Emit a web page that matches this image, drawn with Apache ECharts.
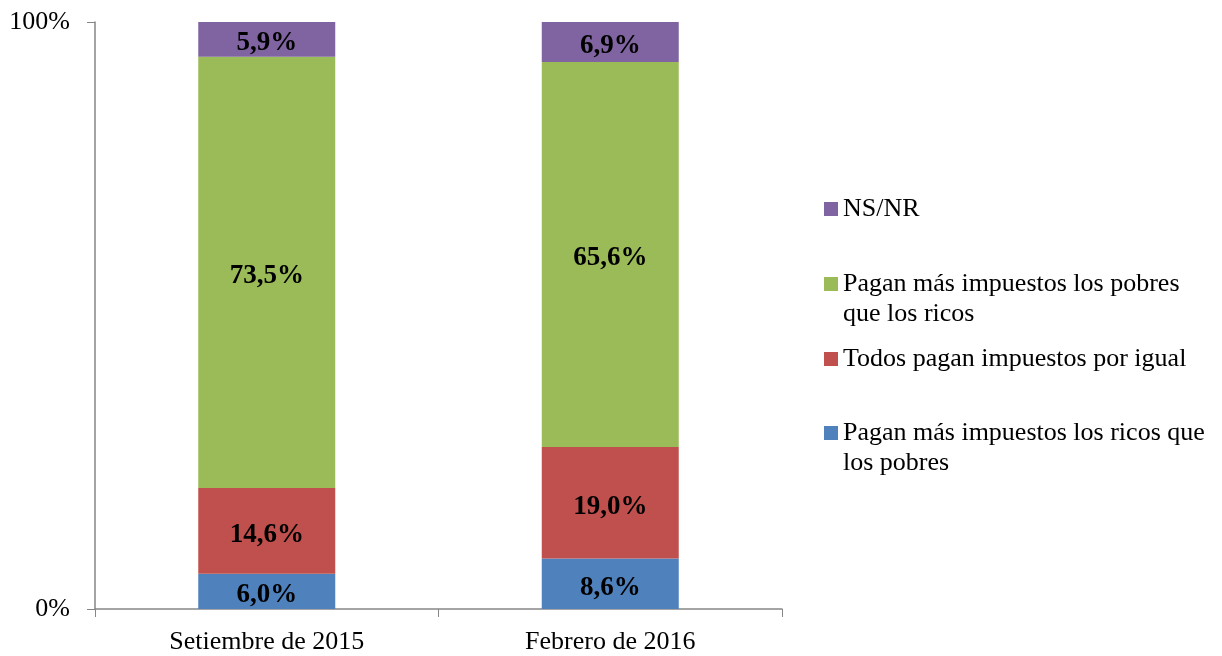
<!DOCTYPE html>
<html>
<head>
<meta charset="utf-8">
<title>ECharts</title>
<script src="https://cdn.jsdelivr.net/npm/echarts@6/dist/echarts.min.js"></script>
</head>
<body style="margin:0;">
	<div id="main" style="width: 1222px; height: 656px;"></div>
	<script type="text/javascript">
		// categorías y valores (%)
		var categories = ['Setiembre de 2015', 'Febrero de 2016'];
		var ricos = [6.0, 8.6];
		var igual = [14.6, 19.0];
		var pobres = [73.5, 65.6];
		var nsnr = [5.9, 6.9];
		var yTicks = ['0%', '100%'];

		var names = [
			'Pagan más impuestos los ricos que los pobres',
			'Todos pagan impuestos por igual',
			'Pagan más impuestos los pobres que los ricos',
			'NS/NR'
		];
		// texto de leyenda en dos líneas: línea vacía delante para que el icono quede en la primera
		var legendText = {};
		legendText[names[0]] = '\nPagan más impuestos los ricos que\nlos pobres';
		legendText[names[1]] = 'Todos pagan impuestos por igual';
		legendText[names[2]] = '\nPagan más impuestos los pobres\nque los ricos';
		legendText[names[3]] = 'NS/NR';

		var serif = '"Liberation Serif", "Times New Roman", serif';

		function fmt(p) {
			return p.value.toFixed(1).replace('.', ',') + '%';
		}

		function serie(name, data, color) {
			return {
				name: name,
				type: 'bar',
				stack: 'total',
				barWidth: 137,
				data: data,
				itemStyle: { color: color },
				label: {
					show: true,
					position: 'inside',
					offset: [0, 4],
					formatter: fmt,
					color: '#000',
					fontFamily: serif,
					fontWeight: 'bold',
					fontSize: 27
				}
			};
		}

		function leyenda(name, top) {
			return {
				data: [name],
				left: 824,
				top: top,
				padding: 0,
				orient: 'vertical',
				itemWidth: 14,
				itemHeight: 14,
				icon: 'rect',
				formatter: function (n) { return legendText[n]; },
				textStyle: {
					fontFamily: serif,
					fontSize: 26,
					lineHeight: 30,
					color: '#000'
				}
			};
		}

		var myChart = echarts.init(document.getElementById('main'));
		myChart.setOption({
			animation: false,
			grid: { left: 95, right: 440, top: 22, bottom: 47 },
			legend: [
				leyenda(names[3], 194),
				leyenda(names[2], 239),
				leyenda(names[1], 344),
				leyenda(names[0], 388)
			],
			xAxis: {
				type: 'category',
				data: categories,
				axisLine: { lineStyle: { color: '#868686', width: 1.5 } },
				axisTick: { show: true, length: 8, lineStyle: { color: '#868686' } },
				axisLabel: {
					color: '#000',
					fontFamily: serif,
					fontSize: 26,
					margin: 20
				}
			},
			yAxis: {
				type: 'value',
				min: 0,
				max: 100,
				interval: 100,
				splitLine: { show: false },
				axisLine: { show: true, lineStyle: { color: '#868686', width: 1.5 } },
				axisTick: { show: true, length: 8, lineStyle: { color: '#868686' } },
				axisLabel: {
					color: '#000',
					fontFamily: serif,
					fontSize: 26,
					margin: 25,
					formatter: function (v) { return v === 0 ? yTicks[0] : yTicks[1]; }
				}
			},
			series: [
				serie(names[0], ricos, '#4F81BD'),
				serie(names[1], igual, '#C0504D'),
				serie(names[2], pobres, '#9BBB59'),
				serie(names[3], nsnr, '#8064A2')
			]
		});
	</script>
</body>
</html>
